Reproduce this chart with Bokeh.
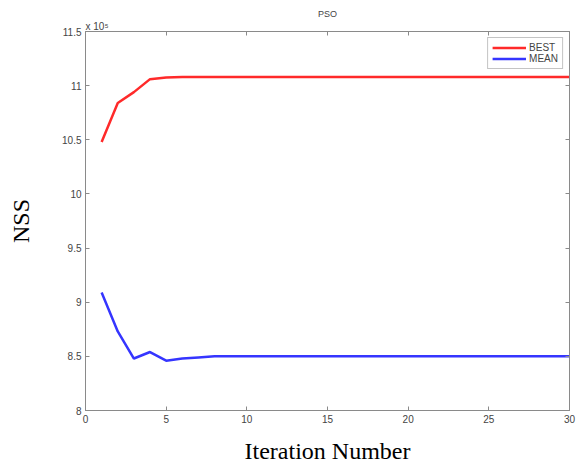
from bokeh.plotting import figure
from bokeh.models import LinearAxis, Legend, LegendItem, Title, Range1d, FixedTicker
from bokeh.embed import file_html
from bokeh.resources import INLINE

iterations = list(range(1, 31))
best = [10.48, 10.84, 10.94, 11.06, 11.075, 11.08, 11.08, 11.08, 11.08, 11.08,
        11.08, 11.08, 11.08, 11.08, 11.08, 11.08, 11.08, 11.08, 11.08, 11.08,
        11.08, 11.08, 11.08, 11.08, 11.08, 11.08, 11.08, 11.08, 11.08, 11.08]
mean = [9.09, 8.73, 8.48, 8.54, 8.46, 8.48, 8.49, 8.50, 8.50, 8.50,
        8.50, 8.50, 8.50, 8.50, 8.50, 8.50, 8.50, 8.50, 8.50, 8.50,
        8.50, 8.50, 8.50, 8.50, 8.50, 8.50, 8.50, 8.50, 8.50, 8.50]
x_ticks = [0, 5, 10, 15, 20, 25, 30]
y_ticks = [8, 8.5, 9, 9.5, 10, 10.5, 11, 11.5]

AX = "#8a8a8a"
TXT = "#444444"

p = figure(width=576, height=466, output_backend="svg", toolbar_location=None,
           x_range=Range1d(0, 30), y_range=Range1d(8, 11.5),
           min_border_left=85, min_border_right=7, min_border_top=31, min_border_bottom=54)
p.grid.visible = False
p.outline_line_color = AX

l1 = p.line(iterations, best, line_color="#ff2a2a", line_width=2.5)
l2 = p.line(iterations, mean, line_color="#3535ff", line_width=2.5)

p.xaxis.ticker = FixedTicker(ticks=x_ticks)
p.yaxis.ticker = FixedTicker(ticks=y_ticks)
for ax in list(p.xaxis) + list(p.yaxis):
    ax.axis_line_color = AX
    ax.major_tick_line_color = AX
    ax.major_tick_in = 4
    ax.major_tick_out = 0
    ax.minor_tick_line_color = None
    ax.major_label_text_font = "Liberation Sans"
    ax.major_label_text_font_size = "10px"
    ax.major_label_text_color = TXT
    ax.major_label_standoff = 4
    ax.axis_label_text_font = "Liberation Serif"
    ax.axis_label_text_font_size = "24px"
    ax.axis_label_text_font_style = "normal"
    ax.axis_label_text_color = "black"

p.xaxis.axis_label = "Iteration Number"
p.xaxis.axis_label_standoff = 12
p.yaxis.axis_label = "NSS"
p.yaxis.axis_label_standoff = 25

top = LinearAxis(ticker=FixedTicker(ticks=x_ticks))
right = LinearAxis(ticker=FixedTicker(ticks=y_ticks))
for ax in (top, right):
    ax.axis_line_color = AX
    ax.major_tick_line_color = AX
    ax.major_tick_in = 4
    ax.major_tick_out = 0
    ax.minor_tick_line_color = None
    ax.major_label_text_font_size = "0px"
    ax.major_label_standoff = 0
    ax.major_label_text_color = None
p.add_layout(top, "above")
p.add_layout(right, "right")

scale_title = Title(text="x 10⁵", align="left", text_font="Liberation Sans",
                    text_font_size="10px", text_font_style="normal", text_color=TXT,
                    standoff=0, offset=0)
p.add_layout(scale_title, "above")
main_title = Title(text="PSO", align="center", text_font="Liberation Sans",
                   text_font_size="9px", text_font_style="normal", text_color=TXT,
                   standoff=0, offset=-10)
p.add_layout(main_title, "above")

legend = Legend(items=[LegendItem(label="BEST", renderers=[l1]),
                       LegendItem(label="MEAN", renderers=[l2])],
                location="top_right")
legend.margin = 6
legend.padding = 4
legend.spacing = 0
legend.glyph_width = 34
legend.glyph_height = 11
legend.label_height = 11
legend.label_standoff = 3
legend.label_text_font = "Liberation Sans"
legend.label_text_font_size = "10px"
legend.label_text_color = TXT
legend.border_line_color = AX
legend.background_fill_alpha = 1
p.add_layout(legend)

open("out.html", "w").write(file_html(p, INLINE))
